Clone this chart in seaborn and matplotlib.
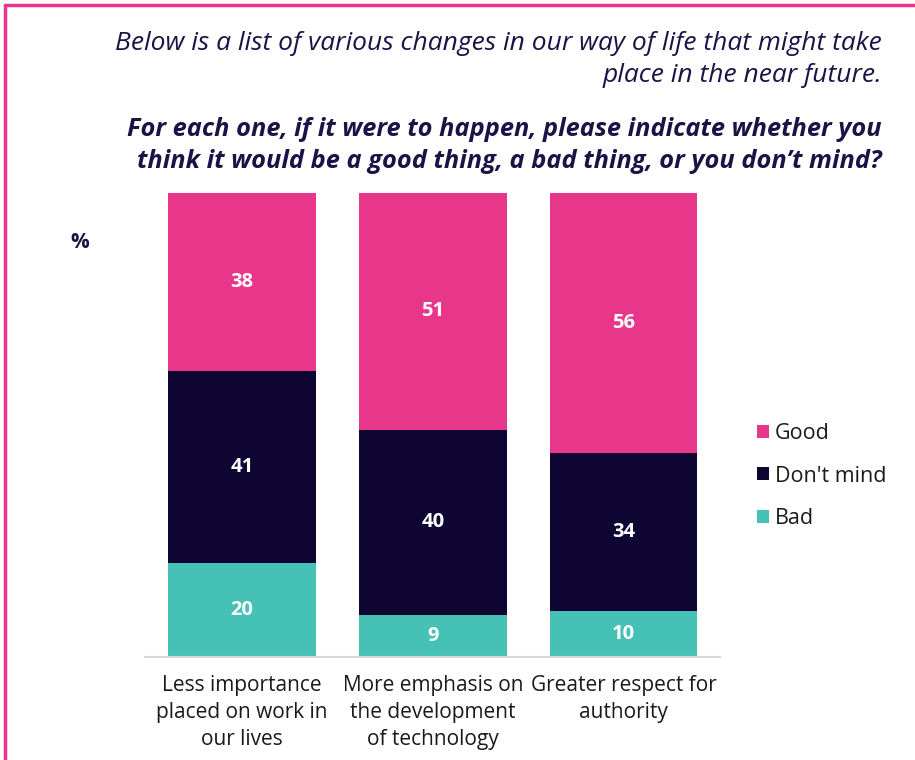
import matplotlib
matplotlib.use("Agg")
import matplotlib.pyplot as plt
import seaborn as sns
import pandas as pd
import numpy as np
from matplotlib.patches import Patch
from matplotlib.lines import Line2D

categories = ["Less importance\nplaced on work in\nour lives",
              "More emphasis on\nthe development\nof technology",
              "Greater respect for\nauthority"]
good = [38, 51, 56]
dont_mind = [41, 40, 34]
bad = [20, 9, 10]
series_names = ["Good", "Don't mind", "Bad"]
colors = {"Good": "#E8368A", "Don't mind": "#0E0533", "Bad": "#45C1B5"}

sns.set_theme(style="white")
plt.rcParams['font.family'] = ['Open Sans', 'DejaVu Sans']

df = pd.DataFrame({"cat": categories, "Good": good, "Don't mind": dont_mind, "Bad": bad})
total = df[["Good", "Don't mind", "Bad"]].sum(axis=1)
share = df[["Good", "Don't mind", "Bad"]].div(total, axis=0) * 100
df["bad_top"] = share["Bad"]
df["dm_top"] = share["Bad"] + share["Don't mind"]
df["good_top"] = df["dm_top"] + share["Good"]

fig = plt.figure(figsize=(9.15, 7.6), dpi=100)
W, H = 915, 760
ax = fig.add_axes([145 / W, 1 - 657 / H, 575 / W, 464 / H])

width = 0.776
sns.barplot(data=df, x="cat", y="good_top", color=colors["Good"], width=width, ax=ax, saturation=1)
sns.barplot(data=df, x="cat", y="dm_top", color=colors["Don't mind"], width=width, ax=ax, saturation=1)
sns.barplot(data=df, x="cat", y="bad_top", color=colors["Bad"], width=width, ax=ax, saturation=1)
for p in ax.patches:
    p.set_edgecolor("none")

ax.set_xlim(-0.509, 2.506)
ax.set_ylim(0, 100)
ax.set_xlabel("")
ax.set_ylabel("")
ax.set_yticks([])
for s in ["top", "right", "left"]:
    ax.spines[s].set_visible(False)
ax.spines["bottom"].set_color("#d9d9d9")
ax.spines["bottom"].set_linewidth(1.5)
ax.tick_params(axis="x", length=0, pad=13)
ax.set_xticks(range(3))
ax.set_xticklabels(categories, fontsize=15, color="#1a1a1a", linespacing=1.38)

for i in range(3):
    segs = [(df["bad_top"][i] / 2, bad[i]),
            ((df["bad_top"][i] + df["dm_top"][i]) / 2, dont_mind[i]),
            ((df["dm_top"][i] + df["good_top"][i]) / 2, good[i])]
    for y, v in segs:
        ax.text(i, y, str(v), ha="center", va="center", color="white",
                fontsize=14.5, fontweight="bold")

# legend
handles = [Patch(facecolor=colors[n], edgecolor="none") for n in series_names]
leg = fig.legend(handles, series_names, loc="upper left", bbox_to_anchor=(757 / W, 1 - 423 / H),
                 frameon=False, fontsize=15.5, handlelength=0.56, handleheight=0.56,
                 handletextpad=0.28, labelspacing=1.0, borderpad=0, borderaxespad=0)
for t in leg.get_texts():
    t.set_color("#1a1a1a")

# titles
navy = "#1a1446"
fig.text(882 / W, 1 - 44 / H, "Below is a list of various changes in our way of life that might take",
         ha="right", va="center", fontsize=19, style="italic", color=navy)
fig.text(882 / W, 1 - 76 / H, "place in the near future.",
         ha="right", va="center", fontsize=19, style="italic", color=navy)
fig.text(882 / W, 1 - 130 / H, "For each one, if it were to happen, please indicate whether you",
         ha="right", va="center", fontsize=18.3, style="italic", fontweight="bold", color=navy)
fig.text(882 / W, 1 - 162 / H, "think it would be a good thing, a bad thing, or you don\u2019t mind?",
         ha="right", va="center", fontsize=18.3, style="italic", fontweight="bold", color=navy)
fig.text(80 / W, 1 - 242 / H, "%", ha="center", va="center", fontsize=15, fontweight="bold", color=navy)

# pink frame (top and left)
pink = "#E8368A"
fig.add_artist(Line2D([5 / W, 1], [1 - 5 / H, 1 - 5 / H], color=pink, lw=2.5, transform=fig.transFigure))
fig.add_artist(Line2D([5 / W, 5 / W], [0, 1 - 5 / H], color=pink, lw=2.5, transform=fig.transFigure))

fig.savefig("out.png", dpi=100, facecolor="white")
